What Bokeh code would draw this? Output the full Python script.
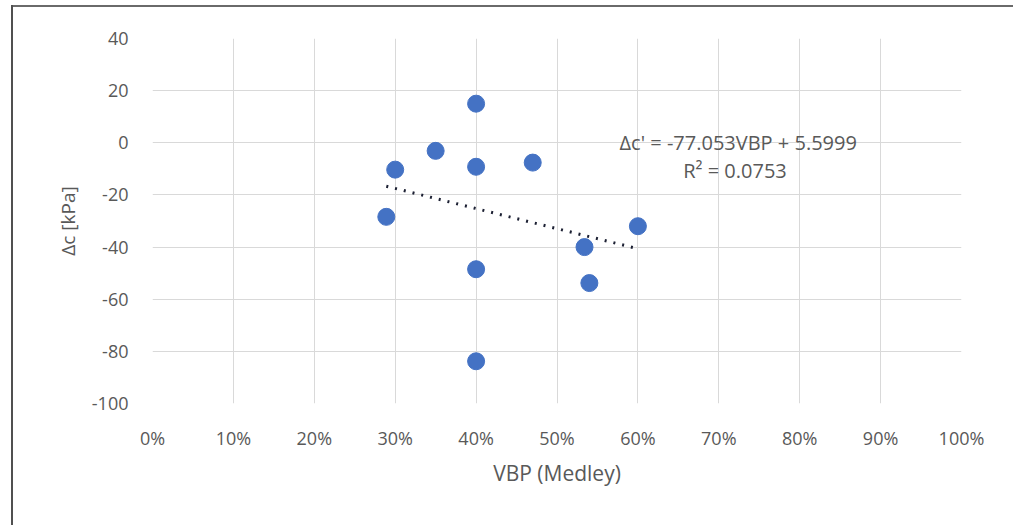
from bokeh.plotting import figure
from bokeh.models import NumeralTickFormatter, FixedTicker, Range1d, Label
from bokeh.embed import file_html
from bokeh.resources import INLINE

vbp = [0.289, 0.30, 0.35, 0.40, 0.40, 0.47, 0.40, 0.40, 0.534, 0.54, 0.60]
dc = [-28.4, -10.3, -3.1, 15.0, -9.2, -7.6, -48.5, -83.8, -40.0, -53.8, -32.0]

slope = -77.053
intercept = 5.5999
eq_text = "Δc' = -77.053VBP + 5.5999"
r2_text = "R² = 0.0753"

x_ticks = [0, 0.1, 0.2, 0.3, 0.4, 0.5, 0.6, 0.7, 0.8, 0.9, 1.0]
y_ticks = [-100, -80, -60, -40, -20, 0, 20, 40]
y_tick_labels = ["-100", "-80", "-60", "-40", "-20", "0", "20", "40"]

FONT = "Open Sans"
GREY = "#595959"

p = figure(width=1013, height=525, output_backend="svg", toolbar_location=None,
           x_range=Range1d(0, 1), y_range=Range1d(-100, 40),
           min_border_left=152, min_border_right=52, min_border_top=38, min_border_bottom=122)
p.styles = {
    "overflow": "hidden",
    "background-color": "white",
    "background-image": "linear-gradient(#505050, #505050), linear-gradient(#6a6a6a, #6a6a6a)",
    "background-size": "2px 1000px, 3000px 2px",
    "background-position": "11px 5px, 11px 5px",
    "background-repeat": "no-repeat",
}
p.outline_line_color = None
p.background_fill_color = "white"
p.border_fill_color = None

for ax in (p.xaxis[0], p.yaxis[0]):
    ax.axis_line_color = None
    ax.major_tick_line_color = None
    ax.minor_tick_line_color = None
    ax.major_label_text_font = FONT
    ax.major_label_text_font_size = "18px"
    ax.major_label_text_color = GREY
    ax.axis_label_text_font = FONT
    ax.axis_label_text_font_size = "21px"
    ax.axis_label_text_color = GREY
    ax.axis_label_text_font_style = "normal"

p.yaxis.axis_label_text_font_size = "19px"
p.xaxis.ticker = FixedTicker(ticks=x_ticks)
p.yaxis.ticker = FixedTicker(ticks=y_ticks)
p.xaxis.formatter = NumeralTickFormatter(format="0%")
p.yaxis.major_label_overrides = {t: s for t, s in zip(y_ticks, y_tick_labels)}
p.xaxis.major_label_standoff = 16
p.yaxis.major_label_standoff = 18
p.xaxis.axis_label = "VBP (Medley)"
p.yaxis.axis_label = "Δc [kPa]"
p.xaxis.axis_label_standoff = 6
p.yaxis.axis_label_standoff = 8

p.xgrid.grid_line_color = "#d9d9d9"
p.ygrid.grid_line_color = "#d9d9d9"
p.xgrid.grid_line_width = 1
p.ygrid.grid_line_width = 1

xs = [min(vbp), max(vbp)]
ys = [slope * x + intercept for x in xs]
p.line(xs, ys, line_color="#1c2033", line_width=3, line_dash="2 7")

p.scatter(vbp, dc, size=17, fill_color="#4472C4", line_color="#4472C4")

p.add_layout(Label(x=0.724, y=0, text=eq_text, text_align="center", text_baseline="middle",
                   text_font=FONT, text_font_size="20px", text_color=GREY))
p.add_layout(Label(x=0.72, y=-10.7, text=r2_text, text_align="center", text_baseline="middle",
                   text_font=FONT, text_font_size="20px", text_color=GREY))

open("out.html", "w").write(file_html(p, INLINE))
